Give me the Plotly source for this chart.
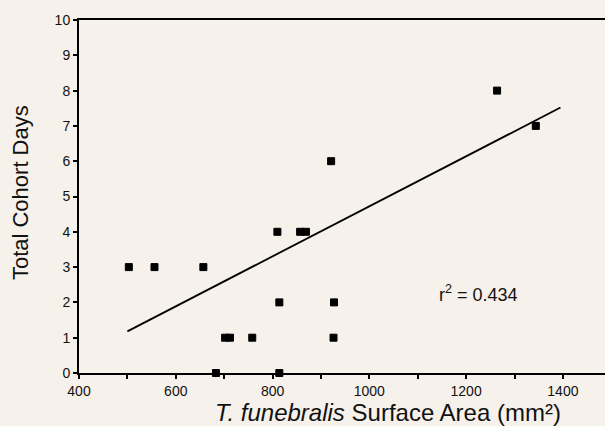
import plotly.graph_objects as go

# Observed data points (surface area mm², total cohort days)
area = [503, 556, 657, 683, 702, 712, 758, 810, 814, 814, 857, 869, 921, 927, 926, 1264, 1344]
days = [3, 3, 3, 0, 1, 1, 1, 4, 2, 0, 4, 4, 6, 2, 1, 8, 7]

# Regression line endpoints as drawn
fit_x = [500, 1395]
fit_y = [1.18, 7.52]

r2_label = "r<sup>2</sup> = 0.434"
x_title = "<i>T. funebralis</i> Surface Area (mm²)"
y_title = "Total Cohort Days"
x_ticks = [400, 600, 800, 1000, 1200, 1400]
y_ticks = list(range(0, 11))

bg = "#f6f1eb"
ink = "#111"
fam = "Liberation Sans, Arial, Helvetica"
fig = go.Figure()
fig.add_trace(go.Scatter(x=fit_x, y=fit_y, mode="lines",
                         line=dict(color="black", width=1.8), showlegend=False))
fig.add_trace(go.Scatter(x=area, y=days, mode="markers",
                         marker=dict(symbol="square", size=7, color="black",
                                     line=dict(color="black", width=1)),
                         showlegend=False, cliponaxis=False))

fig.add_annotation(x=1225, y=2.25, text=r2_label, showarrow=False,
                   font=dict(family=fam, size=18, color=ink))
fig.add_annotation(xref="paper", yref="paper", x=0.588, y=-0.113, yanchor="middle",
                   text=x_title, showarrow=False,
                   font=dict(family=fam, size=24, color=ink))
fig.add_annotation(xref="paper", yref="paper", x=-0.110, y=0.51, xanchor="center",
                   yanchor="middle", textangle=-90,
                   text=y_title, showarrow=False,
                   font=dict(family=fam, size=22, color=ink))

fig.update_layout(
    width=605, height=426,
    margin=dict(l=79, r=0, t=20, b=53),
    paper_bgcolor=bg, plot_bgcolor=bg,
    font=dict(family=fam, color=ink),
    xaxis=dict(range=[400, 1487], tickvals=x_ticks, ticks="outside", ticklen=4,
               tickwidth=1.5, tickcolor="black",
               minor=dict(dtick=100, tick0=400, ticks="outside", ticklen=4, tickwidth=1.5, tickcolor="black"),
               showline=True, linecolor="black", linewidth=2, mirror=True,
               showgrid=False, zeroline=False,
               tickfont=dict(size=14, color=ink)),
    yaxis=dict(range=[0, 10], tickvals=y_ticks, ticks="outside", ticklen=4,
               tickwidth=1.5, tickcolor="black",
               showline=True, linecolor="black", linewidth=2,
               showgrid=False, zeroline=False,
               tickfont=dict(size=14, color=ink)),
)

fig.write_html("out.html")
